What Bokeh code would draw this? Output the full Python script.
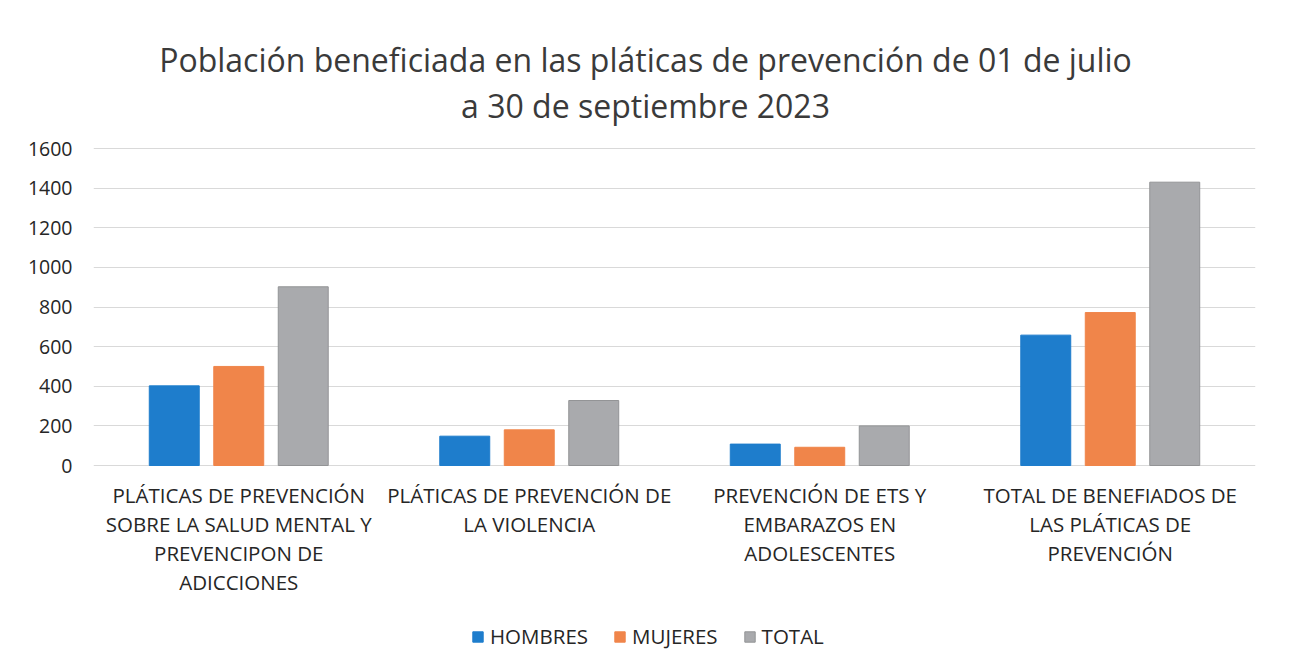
from bokeh.plotting import figure
from bokeh.models import (FactorRange, ColumnDataSource, Legend, LegendItem, FixedTicker,
                          Range1d, LabelSet, Label)
from bokeh.core.properties import value
from bokeh.transform import dodge
from bokeh.embed import file_html
from bokeh.resources import INLINE

categories = [
    "PLÁTICAS DE PREVENCIÓN\nSOBRE LA SALUD MENTAL Y\nPREVENCIPON DE\nADICCIONES",
    "PLÁTICAS DE PREVENCIÓN DE\nLA VIOLENCIA",
    "PREVENCIÓN DE ETS Y\nEMBARAZOS EN\nADOLESCENTES",
    "TOTAL DE BENEFIADOS DE\nLAS PLÁTICAS DE\nPREVENCIÓN",
]
hombres = [402, 148, 108, 658]
mujeres = [500, 180, 92, 772]
total = [902, 328, 200, 1430]
series_names = ["HOMBRES", "MUJERES", "TOTAL"]
colors = ["#1e7dcc", "#f0854a", "#a9aaad"]
edge_colors = ["#1e7dcc", "#f0854a", "#939496"]
y_ticks = [0, 200, 400, 600, 800, 1000, 1200, 1400, 1600]
title_lines = ["Población beneficiada en las pláticas de prevención de 01 de julio",
               "a 30 de septiembre 2023"]

FONT = "Open Sans"
TXT = "#262626"
src = ColumnDataSource(dict(cat=categories, h=hombres, m=mujeres, t=total))

# The frame covers the whole canvas height so that the title, category labels and
# legend (drawn as annotations) lie inside it; gridlines/ticks only at y_ticks.
W, H = 1274, 656
TOP, LEFT, RIGHT = 148, 93, 19
ZERO_PX = 465
ymax = y_ticks[-1]
ppu = (ZERO_PX - TOP) / ymax
y_lo = -(H - ZERO_PX) / ppu
y_hi = ymax + TOP / ppu

p = figure(x_range=FactorRange(*categories), y_range=Range1d(y_lo, y_hi),
           width=W, height=H, output_backend="svg", toolbar_location=None,
           min_border_left=LEFT, min_border_right=RIGHT, min_border_top=0, min_border_bottom=0)

offs = [-0.222, 0.0, 0.222]
rs = []
for col, off, c, ec in zip(["h", "m", "t"], offs, colors, edge_colors):
    r = p.vbar(x=dodge("cat", off, range=p.x_range), top=col, width=0.172, source=src,
               fill_color=c, line_color=ec)
    rs.append(r)

p.outline_line_color = None
p.xgrid.grid_line_color = None
p.ygrid.grid_line_color = "#d9d9d9"
p.ygrid.grid_line_width = 1
p.yaxis.ticker = FixedTicker(ticks=y_ticks)
p.yaxis.axis_line_color = None
p.yaxis.major_tick_line_color = None
p.yaxis.minor_tick_line_color = None
p.yaxis.major_label_text_font = FONT
p.yaxis.major_label_text_font_size = "19.5px"
p.yaxis.major_label_text_color = TXT
p.yaxis.major_label_standoff = 15
p.xaxis.visible = False

# title (two centred lines)
n_cat = len(categories)
for line, off in zip(title_lines, [89, 43]):
    p.add_layout(Label(x=n_cat / 2, y=ymax, text=line, x_offset=-29, y_offset=off,
                       text_align="center", text_baseline="alphabetic", text_font=FONT,
                       text_font_size="32px", text_color="#3a3a3a"))

# category labels, one row per line so every line is centred
lx, ltxt, loff = [], [], []
for c in categories:
    for i, ln in enumerate(c.split("\n")):
        lx.append(c)
        ltxt.append(ln)
        loff.append(-29 - 29.2 * i)
lsrc = ColumnDataSource(dict(x=lx, y=[0] * len(lx), text=ltxt, off=loff))
p.add_layout(LabelSet(x="x", y="y", text="text", y_offset="off", source=lsrc,
                      text_align="center", text_baseline="middle", text_font=value(FONT),
                      text_font_size=value("20.5px"), text_color=TXT))

legend = Legend(items=[LegendItem(label=n, renderers=[r]) for n, r in zip(series_names, rs)],
                orientation="horizontal", location=(378, 6),
                label_text_font=FONT, label_text_font_size="20.5px", label_text_color=TXT,
                glyph_width=13, glyph_height=13, spacing=25, border_line_color=None,
                background_fill_alpha=0, margin=0, padding=5, label_standoff=6)
p.add_layout(legend, "center")

open("out.html", "w").write(file_html(p, INLINE))
